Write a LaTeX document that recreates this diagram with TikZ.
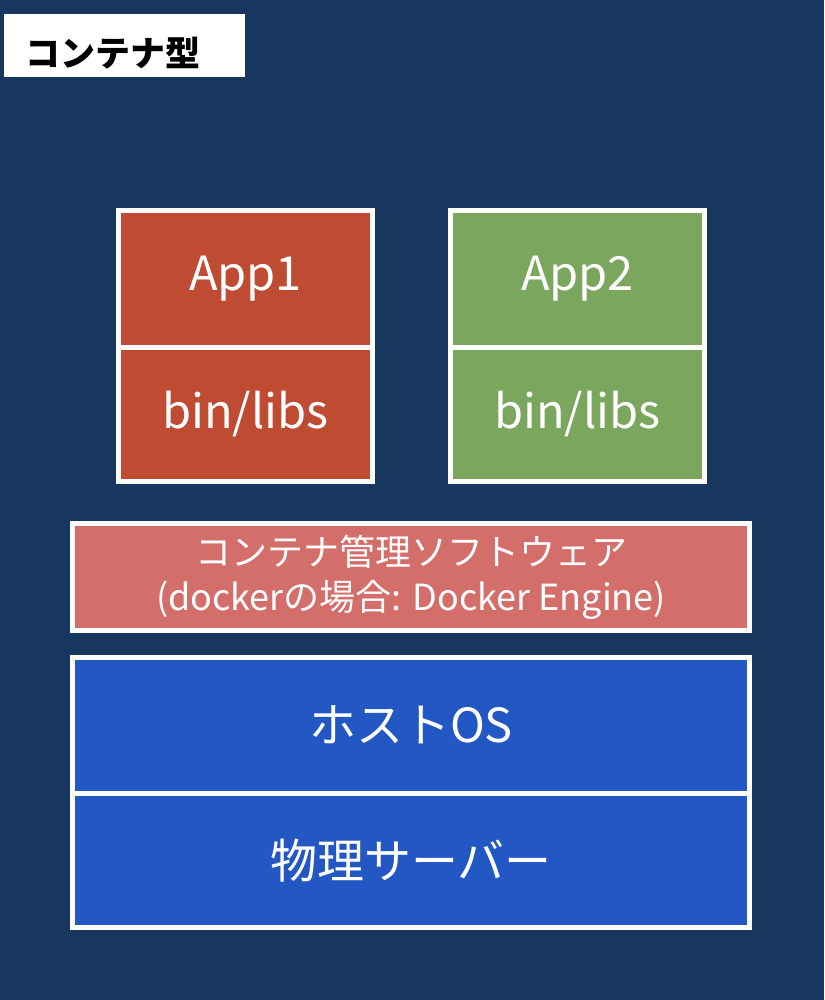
\documentclass[tikz,border=0pt]{standalone}
\usepackage{fontspec}
\setmainfont{Noto Sans CJK JP}
\definecolor{bgnavy}{HTML}{17375E}
\definecolor{appred}{HTML}{BE4B32}
\definecolor{appgreen}{HTML}{7BA65D}
\definecolor{mgrpink}{HTML}{D46E6A}
\definecolor{hostblue}{HTML}{2358C4}
\begin{document}
\begin{tikzpicture}[x=1pt,y=-1pt,
  layer/.style={draw=white, line width=5pt, rectangle, anchor=north west, inner sep=0pt, outer sep=0pt, text=white, align=center},
  bigtxt/.style={font=\fontsize{47}{52}\selectfont},
  midtxt/.style={font=\fontsize{36}{45}\selectfont}]
\fill[bgnavy] (0,0) rectangle (824,1000);
\useasboundingbox (0,0) rectangle (824,1000);
% title label
\node[fill=white, anchor=north west, minimum width=241pt, minimum height=63pt, inner sep=0pt, outer sep=0pt] (label) at (4,14) {};
\node[anchor=west, inner sep=0pt, font=\fontsize{35}{40}\selectfont\bfseries, text=black] (labeltext) at (25,53) {コンテナ型};
% App1 stack
\node[layer, fill=appred, bigtxt, minimum width=254pt, minimum height=136.5pt] (app1) at (118.5,210.5) {App1};
\node[layer, fill=appred, bigtxt, minimum width=254pt, minimum height=134.5pt] (libs1) at (118.5,347) {bin/libs};
% App2 stack
\node[layer, fill=appgreen, bigtxt, minimum width=254pt, minimum height=136.5pt] (app2) at (450.5,210.5) {App2};
\node[layer, fill=appgreen, bigtxt, minimum width=254pt, minimum height=134.5pt] (libs2) at (450.5,347) {bin/libs};
% container manager
\node[layer, fill=mgrpink, midtxt, minimum width=677pt, minimum height=107pt] (engine) at (72.5,523.5) {コンテナ管理ソフトウェア\\(dockerの場合: Docker Engine)};
% host OS and server
\node[layer, fill=hostblue, bigtxt, minimum width=677pt, minimum height=135.5pt] (hostos) at (72.5,657.5) {ホストOS};
\node[layer, fill=hostblue, bigtxt, minimum width=677pt, minimum height=134.5pt] (server) at (72.5,793) {物理サーバー};
\end{tikzpicture}
\end{document}
